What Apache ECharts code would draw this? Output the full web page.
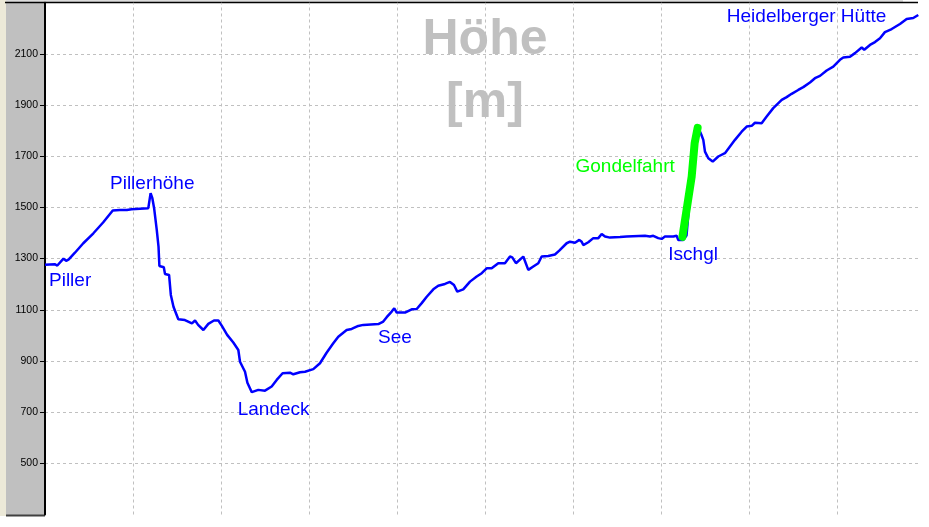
<!DOCTYPE html>
<html>
<head>
<meta charset="utf-8">
<script src="https://cdn.jsdelivr.net/npm/echarts@6/dist/echarts.min.js"></script>
<style>
html,body{margin:0;padding:0;background:#fff;}
#chart{width:929px;height:527px;}
</style>
</head>
<body>
<div id="chart"></div>
<script>
// distance (arbitrary units, 10 per vertical grid cell)
const distance = [0,1.1,1.4,2.1,2.4,2.7,3.4,4.35,5.5,6.6,7.7,8.5,9.3,9.85,11.74,12.0,12.2,12.4,12.7,12.9,13.0,13.5,13.64,14.1,14.3,14.6,15.15,15.9,16.7,17.05,17.4,18.0,18.56,19.2,19.7,20.1,20.7,21.4,21.97,22.16,22.73,23.0,23.5,24.24,25.0,25.76,26.33,27.0,27.84,28.22,28.98,29.55,30.49,31.25,32.0,32.76,33.33,34.28,34.85,35.6,36.17,37.88,38.44,38.83,39.4,39.69,39.97,40.91,41.67,42.24,42.81,43.38,44.13,44.69,45.45,46.02,46.48,46.85,47.53,48.3,49.06,49.63,50.19,50.76,51.51,51.7,52.27,52.84,53.1,53.52,54.35,54.55,54.92,55.49,56.06,56.44,57.19,57.95,58.44,59.28,59.66,60.23,60.72,60.99,61.17,61.74,62.31,62.88,63.26,63.64,64.2,65.34,66.1,68.18,68.75,69.13,69.69,70.08,70.45,71.4,71.78,71.97,72.53,72.9,73.5,73.85,74.2,74.6,74.81,75.0,75.38,75.88,76.51,77.27,77.84,78.41,79.17,79.74,80.31,80.68,81.44,82.01,82.76,83.72,84.28,84.85,85.6,86.17,86.93,87.5,88.07,88.83,89.58,90.34,90.72,91.48,92.05,92.81,93.1,93.75,94.32,94.89,95.45,96.22,97.16,97.92,98.67,99.24];
// elevation in metres
const elevation = [1276,1278,1273,1300,1291,1297,1323,1360,1399,1441,1488,1490,1490,1493,1497,1556,1536,1497,1412,1347,1271,1266,1240,1236,1158,1112,1063,1060,1047,1058,1041,1021,1045,1058,1058,1037,1002,972,943,897,858,815,778,787,784,800,826,852,854,848,856,858,868,891,932,969,995,1021,1025,1037,1041,1044,1054,1071,1093,1106,1089,1089,1102,1103,1126,1151,1180,1194,1201,1209,1197,1171,1180,1210,1230,1243,1262,1262,1282,1278,1282,1308,1305,1282,1308,1305,1256,1269,1282,1308,1310,1316,1331,1360,1366,1362,1373,1366,1353,1364,1380,1380,1396,1386,1382,1384,1386,1389,1386,1389,1380,1377,1386,1386,1389,1373,1373,1390,1620,1752,1815,1783,1764,1718,1692,1679,1699,1712,1738,1764,1796,1816,1819,1831,1829,1855,1888,1920,1931,1944,1959,1970,1988,2005,2014,2035,2050,2077,2086,2089,2103,2125,2116,2135,2146,2161,2185,2197,2217,2236,2240,2252];
// gondola section (Gondelfahrt)
const gondolaDistance = [72.44,73.49,73.83,74.17];
const gondolaElevation = [1385,1620,1752,1811];
// vertical grid positions (distance)
const xGridLines = [10,20,30,40,50,60,70,80,90];
// y axis range / tick step (labels 500 ... 2100)
const yMin = 300, yMax = 2300, yStep = 200;
const xMax = 99.3;

const mainData = distance.map((d,i)=>[d, elevation[i]]);
const gondolaData = gondolaDistance.map((d,i)=>[d, gondolaElevation[i]]);

const FONT = "Arial, 'Liberation Sans', sans-serif";
const gridDash = {color:'#c0c0c0', width:1, type:[3,3]};

function label(text, x, y, color){
  return {type:'text', z:100, style:{text:text, x:x, y:y, fill:color, font:'19px ' + FONT, textAlign:'left', textVerticalAlign:'middle'}};
}

const chart = echarts.init(document.getElementById('chart'), null, {renderer:'canvas'});
chart.setOption({
  animation:false,
  backgroundColor:'#ffffff',
  grid:{left:45, right:10.2, top:2.7, bottom:12.5, containLabel:false},
  xAxis:{
    type:'value', min:0, max:xMax,
    axisLine:{show:false}, axisTick:{show:false}, axisLabel:{show:false},
    splitLine:{show:false}
  },
  yAxis:{
    type:'value', min:yMin, max:yMax, interval:yStep,
    axisLine:{show:true, lineStyle:{color:'#000', width:2}},
    axisTick:{show:true, length:5, lineStyle:{color:'#000', width:1}},
    axisLabel:{show:true, color:'#000', fontSize:10.5, fontFamily:FONT, margin:7,
               showMinLabel:false, showMaxLabel:false,
               formatter:function(v){ return (v <= yMin || v >= yMax) ? '' : String(v); }},
    splitLine:{show:true, lineStyle:gridDash, showMinLine:false, showMaxLine:false}
  },
  graphic:[
    {type:'rect', z:-10, shape:{x:0, y:0, width:6, height:516}, style:{fill:'#ece9d8'}},
    {type:'rect', z:-10, shape:{x:6, y:3, width:38, height:512}, style:{fill:'#c0c0c0'}},
    {type:'line', z:-5, shape:{x1:6, y1:1, x2:903, y2:1}, style:{stroke:'#b8b8b8', lineWidth:1}},
    {type:'line', z:-5, shape:{x1:5, y1:2.5, x2:918, y2:2.5}, style:{stroke:'#000', lineWidth:1.5}},
    {type:'line', z:-5, shape:{x1:6, y1:515.5, x2:45, y2:515.5}, style:{stroke:'#404040', lineWidth:2}},
    {type:'text', z:50, style:{text:'Höhe', x:485, y:40.5, fill:'#c0c0c0', font:'bold 50px ' + FONT, textAlign:'center', textVerticalAlign:'middle'}},
    {type:'text', z:50, style:{text:'[m]', x:485, y:103.5, fill:'#c0c0c0', font:'bold 50px ' + FONT, textAlign:'center', textVerticalAlign:'middle'}},
    label('Piller', 49, 280.7, '#0000ff'),
    label('Pillerhöhe', 110, 183.7, '#0000ff'),
    label('Landeck', 237.7, 410.2, '#0000ff'),
    label('See', 378, 337.7, '#0000ff'),
    label('Ischgl', 668.3, 254.7, '#0000ff'),
    label('Gondelfahrt', 575.5, 166.4, '#00ff00'),
    label('Heidelberger Hütte', 726.8, 17, '#0000ff')
  ],
  series:[
    {type:'line', data:mainData, showSymbol:false, symbol:'none', z:3,
     lineStyle:{color:'#0000ff', width:2.5},
     markLine:{silent:true, symbol:'none', z:1, label:{show:false},
       lineStyle:{color:'#c0c0c0', width:1, type:[3,3]},
       data:xGridLines.map(v=>({xAxis:v}))}},
    {type:'line', data:gondolaData, showSymbol:false, symbol:'none', z:4,
     lineStyle:{color:'#00ff00', width:8, cap:'round', join:'round'}}
  ]
});
</script>
</body>
</html>
